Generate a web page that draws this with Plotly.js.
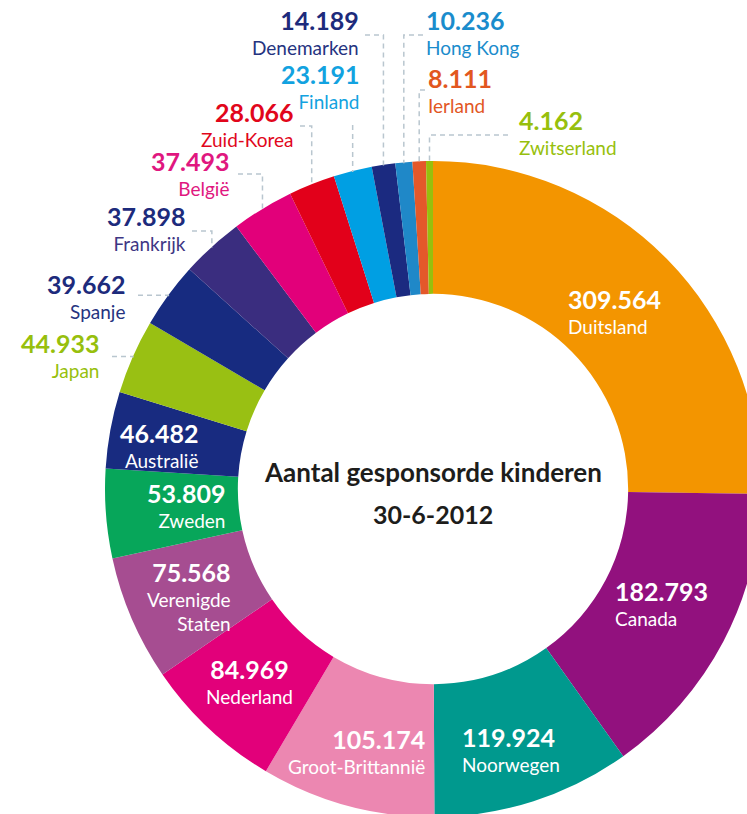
<!DOCTYPE html>
<html>
<head>
<meta charset="utf-8">
<script src="https://cdn.plot.ly/plotly-3.0.1.min.js"></script>
<style>
html,body{margin:0;padding:0;background:#fff;overflow:hidden;}
#wrap{position:relative;width:747px;height:814px;overflow:hidden;background:#fff;}
#chart{position:absolute;left:0;top:0;width:866px;height:978px;}
</style>
</head>
<body>
<div id="wrap"><div id="chart"></div></div>
<script>
// ---------- DATA ----------
const countries = ["Duitsland","Canada","Noorwegen","Groot-Brittannië","Nederland","Verenigde Staten","Zweden","Australië","Japan","Spanje","Frankrijk","België","Zuid-Korea","Finland","Denemarken","Hong Kong","Ierland","Zwitserland"];
const sponsored = [309564,182793,119924,105174,84969,75568,53809,46482,44933,39662,37898,37493,28066,23191,14189,10236,8111,4162];
const valueLabels = ["309.564","182.793","119.924","105.174","84.969","75.568","53.809","46.482","44.933","39.662","37.898","37.493","28.066","23.191","14.189","10.236","8.111","4.162"];
const nameLines = [["Duitsland"],["Canada"],["Noorwegen"],["Groot-Brittannië"],["Nederland"],["Verenigde","Staten"],["Zweden"],["Australië"],["Japan"],["Spanje"],["Frankrijk"],["België"],["Zuid-Korea"],["Finland"],["Denemarken"],["Hong Kong"],["Ierland"],["Zwitserland"]];
const titleLines = ["Aantal gesponsorde kinderen","30-6-2012"];

// ---------- STYLE / LAYOUT ----------
const sliceColors = ["#F39500","#92117E","#00998E","#EC87B1","#E2007A","#A64D91","#07A65A","#182B80","#99C013","#172B80","#3A2D7F","#E2007A","#E2001A","#009FE3","#1B2A80","#1F88C8","#E4582A","#97BF0D"];
const W = 866, H = 978, CX = 433, CY = 489, R = 328, HOLE = 0.595;
const M = {l: CX - R, r: W - CX - R, t: CY - R, b: H - CY - R, pad: 0};
const FONT = "Lato, 'Open Sans', sans-serif";
const VAL_SIZE = 25, NAME_SIZE = 19, ASC = 0.987, DESC = 0.213, CAP = 0.716;
const LS = DESC * VAL_SIZE + ASC * NAME_SIZE + 0.6;      // line pitch that keeps line boxes apart
const BASE_SIZE = LS / 1.3;
const REF_GAP = 23;                                       // cap-centre distance value -> name in the reference
const SHIFT = (LS + CAP * VAL_SIZE / 2 - CAP * NAME_SIZE / 2 - REF_GAP) / 2;
// label placement (pixels): x, anchor, centre y of the value line, colours, leader settings
const labelPos = [
  {x:567, a:"left",   vy:302,   vc:"#fff", nc:"#fff"},
  {x:614, a:"left",   vy:594,   vc:"#fff", nc:"#fff"},
  {x:461, a:"left",   vy:739.5, vc:"#fff", nc:"#fff"},
  {x:426, a:"right",  vy:742,   vc:"#fff", nc:"#fff"},
  {x:249, a:"center", vy:672,   vc:"#fff", nc:"#fff"},
  {x:232, a:"right",  vy:574.5, vc:"#fff", nc:"#fff"},
  {x:226, a:"right",  vy:496,   vc:"#fff", nc:"#fff"},
  {x:199, a:"right",  vy:435.5, vc:"#fff", nc:"#fff"},
  {x:100, a:"right",  vy:346,   vc:"#97BF0D", nc:"#97BF0D", lead:{y:null, end:112}},
  {x:126, a:"right",  vy:287,   vc:"#1D2B7C", nc:"#25337F", lead:{y:null, end:138}},
  {x:187, a:"right",  vy:218.5, vc:"#1D2B7C", nc:"#3E3684", lead:{y:231, end:192}},
  {x:230, a:"right",  vy:164,   vc:"#E0177F", nc:"#E0177F", lead:{y:174, end:238}},
  {x:295, a:"right",  vy:115,   vc:"#E1061B", nc:"#E1061B", lead:{y:126, end:300}},
  {x:360, a:"right",  vy:77,    vc:"#12A2E0", nc:"#12A2E0", lead:{y:125, end:null}},
  {x:360, a:"right",  vy:22.5,  vc:"#1D2B7C", nc:"#25337F", lead:{y:35, end:365}},
  {x:425, a:"left",   vy:22.5,  vc:"#1A8CCC", nc:"#1A8CCC", lead:{y:35, end:423}},
  {x:427, a:"left",   vy:81,    vc:"#E2571F", nc:"#E2571F", lead:{y:90, end:425}},
  {x:518, a:"left",   vy:123,   vc:"#97BF0D", nc:"#97BF0D", lead:{y:135, end:508}}
];

// ---------- helpers ----------
const PW = W - M.l - M.r, PH = H - M.t - M.b;
const px2x = px => (px - M.l) / PW;
const px2y = py => (M.t + PH - py) / PH;

const total = sponsored.reduce((s, v) => s + v, 0);
let cum = 0;
const mids = sponsored.map(v => { const a0 = cum / total; cum += v; return ((a0 + cum / total) / 2) * 2 * Math.PI; });

const annotations = [];
const shapes = [];
labelPos.forEach((p, i) => {
  const lines = nameLines[i];
  const text = '<span style="font-size:' + VAL_SIZE + 'px;font-weight:bold;color:' + p.vc + '">' + valueLabels[i] + '</span>' +
    lines.map(ln => '<br><span style="font-size:' + NAME_SIZE + 'px;color:' + p.nc + '">' + ln + '</span>').join('');
  const base1 = p.vy - SHIFT + CAP * VAL_SIZE / 2;
  const yc = base1 + (-ASC * VAL_SIZE + lines.length * LS + DESC * NAME_SIZE) / 2;
  annotations.push({xref:"paper", yref:"paper", x:px2x(p.x), y:px2y(yc), xanchor:p.a, yanchor:"middle", align:p.a,
    text:text, showarrow:false, borderpad:0, font:{family:FONT, size:BASE_SIZE, color:p.nc}});
  if (p.lead) {
    const sx = CX + R * Math.sin(mids[i]);
    const sy = CY - R * Math.cos(mids[i]);
    const ly = p.lead.y === null ? sy : p.lead.y;
    const ex = p.lead.end === null ? sx : p.lead.end;
    shapes.push({type:"path", xref:"paper", yref:"paper",
      path:"M" + px2x(ex) + "," + px2y(ly) + " L" + px2x(sx) + "," + px2y(ly) + " L" + px2x(sx) + "," + px2y(sy + 1),
      line:{color:"#B9C6CF", width:1.5, dash:"5px,4px"}});
  }
});

// centre title
annotations.push({xref:"paper", yref:"paper", x:px2x(CX), y:px2y(472), xanchor:"center", yanchor:"middle",
  text:"<b>" + titleLines[0] + "</b>", showarrow:false, borderpad:0, font:{family:FONT, size:26, color:"#1D1D1B"}});
annotations.push({xref:"paper", yref:"paper", x:px2x(CX), y:px2y(513.5), xanchor:"center", yanchor:"middle",
  text:"<b>" + titleLines[1] + "</b>", showarrow:false, borderpad:0, font:{family:FONT, size:25, color:"#1D1D1B"}});

const trace = {
  type:"pie", labels:countries, values:sponsored, sort:false, direction:"clockwise", rotation:0,
  hole:HOLE, marker:{colors:sliceColors, line:{color:"#ffffff", width:0}},
  textinfo:"none", textposition:"none", hoverinfo:"skip", showlegend:false
};

Plotly.newPlot("chart", [trace], {
  width:W, height:H, margin:M, paper_bgcolor:"#ffffff", plot_bgcolor:"#ffffff",
  showlegend:false, annotations:annotations, shapes:shapes
}, {staticPlot:true, displayModeBar:false});
</script>
</body>
</html>
